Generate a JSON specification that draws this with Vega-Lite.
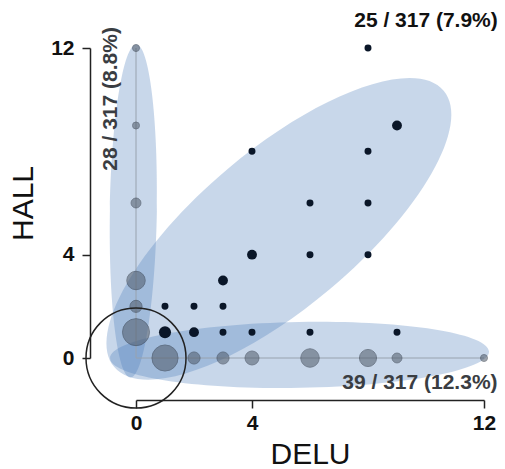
{
  "$schema": "https://vega.github.io/schema/vega-lite/v6.json",
  "width": 348,
  "height": 310,
  "autosize": "none",
  "padding": {"left": 136, "top": 48, "right": 21, "bottom": 111},
  "background": "white",
  "config": {"view": {"stroke": null}, "font": "Liberation Sans"},
  "datasets": {
    "single": [
      {"DELU": 0, "HALL": 12, "n": 1},
      {"DELU": 0, "HALL": 9, "n": 1},
      {"DELU": 0, "HALL": 6, "n": 2},
      {"DELU": 0, "HALL": 3, "n": 7},
      {"DELU": 0, "HALL": 2, "n": 3},
      {"DELU": 0, "HALL": 1, "n": 15},
      {"DELU": 1, "HALL": 0, "n": 14},
      {"DELU": 2, "HALL": 0, "n": 3},
      {"DELU": 3, "HALL": 0, "n": 3},
      {"DELU": 4, "HALL": 0, "n": 4},
      {"DELU": 6, "HALL": 0, "n": 7},
      {"DELU": 8, "HALL": 0, "n": 6},
      {"DELU": 9, "HALL": 0, "n": 2},
      {"DELU": 12, "HALL": 0, "n": 1}
    ],
    "both": [
      {"DELU": 1, "HALL": 1, "n": 3},
      {"DELU": 2, "HALL": 1, "n": 2},
      {"DELU": 3, "HALL": 1, "n": 1},
      {"DELU": 4, "HALL": 1, "n": 1},
      {"DELU": 6, "HALL": 1, "n": 1},
      {"DELU": 9, "HALL": 1, "n": 1},
      {"DELU": 1, "HALL": 2, "n": 1},
      {"DELU": 2, "HALL": 2, "n": 1},
      {"DELU": 3, "HALL": 2, "n": 1},
      {"DELU": 3, "HALL": 3, "n": 2},
      {"DELU": 4, "HALL": 4, "n": 2},
      {"DELU": 6, "HALL": 4, "n": 1},
      {"DELU": 8, "HALL": 4, "n": 1},
      {"DELU": 6, "HALL": 6, "n": 1},
      {"DELU": 8, "HALL": 6, "n": 1},
      {"DELU": 4, "HALL": 8, "n": 1},
      {"DELU": 8, "HALL": 8, "n": 1},
      {"DELU": 9, "HALL": 9, "n": 2},
      {"DELU": 8, "HALL": 12, "n": 1}
    ]
  },
  "encoding": {
    "x": {
      "field": "DELU", "type": "quantitative",
      "scale": {"domain": [0, 12], "nice": false, "zero": false},
      "axis": {
        "values": [0, 4, 12], "offset": 42, "grid": false,
        "domainColor": "#222", "domainWidth": 1.5, "tickColor": "#222", "tickWidth": 1.5, "tickSize": 8,
        "labelFont": "Liberation Sans", "labelFontWeight": "bold", "labelFontSize": 21, "labelColor": "#111",
        "labelPadding": 4, "labelFlush": false, "labelOverlap": false,
        "title": "DELU", "titleFont": "Liberation Sans", "titleFontSize": 30, "titleFontWeight": "normal",
        "titleColor": "#111", "titlePadding": 6
      }
    },
    "y": {
      "field": "HALL", "type": "quantitative",
      "scale": {"domain": [0, 12], "nice": false, "zero": false},
      "axis": {
        "values": [0, 4, 12], "offset": 46, "grid": false,
        "domainColor": "#222", "domainWidth": 1.5, "tickColor": "#222", "tickWidth": 1.5, "tickSize": 8,
        "labelFont": "Liberation Sans", "labelFontWeight": "bold", "labelFontSize": 21, "labelColor": "#111",
        "labelPadding": 8, "labelFlush": false, "labelOverlap": false,
        "title": "HALL", "titleFont": "Liberation Sans", "titleFontSize": 30, "titleFontWeight": "normal",
        "titleColor": "#111", "titlePadding": 12
      }
    }
  },
  "layer": [
    {
      "data": {"values": [{"group": "HALL only", "DELU": -0.09, "HALL": 5.69}]},
      "mark": {"type": "point", "filled": true, "color": "#4a7ab8", "opacity": 0.3, "strokeWidth": 0,
        "shape": "M1,0C1,0.0779 0.5523,0.141 0,0.141C-0.5523,0.141 -1,0.0779 -1,0C-1,-0.0779 -0.5523,-0.141 0,-0.141C0.5523,-0.141 1,-0.0779 1,0Z",
        "size": 110889, "angle": -89}
    },
    {
      "data": {"values": [{"group": "DELU only", "DELU": 5.64, "HALL": 0.12}]},
      "mark": {"type": "point", "filled": true, "color": "#4a7ab8", "opacity": 0.3, "strokeWidth": 0,
        "shape": "M1,0C1,0.0961 0.5523,0.174 0,0.174C-0.5523,0.174 -1,0.0961 -1,0C-1,-0.0961 -0.5523,-0.174 0,-0.174C0.5523,-0.174 1,-0.0961 1,0Z",
        "size": 143641, "angle": -1}
    },
    {
      "data": {"values": [{"group": "both", "DELU": 4.93, "HALL": 5.0}]},
      "mark": {"type": "point", "filled": true, "color": "#4a7ab8", "opacity": 0.3, "strokeWidth": 0,
        "shape": "M1,0C1,0.2027 0.5523,0.367 0,0.367C-0.5523,0.367 -1,0.2027 -1,0C-1,-0.2027 -0.5523,-0.367 0,-0.367C0.5523,-0.367 1,-0.2027 1,0Z",
        "size": 184900, "angle": -40}
    },
    {
      "data": {"values": [{"DELU": 0, "HALL": 0, "HALL2": 12}]},
      "mark": {"type": "rule", "color": "#98a2ae", "strokeWidth": 1},
      "encoding": {"y2": {"field": "HALL2"}}
    },
    {
      "data": {"values": [{"DELU": 0, "DELU2": 12, "HALL": 0}]},
      "mark": {"type": "rule", "color": "#98a2ae", "strokeWidth": 1},
      "encoding": {"x2": {"field": "DELU2"}}
    },
    {
      "data": {"name": "single"},
      "mark": {"type": "circle", "color": "#4f5a69", "opacity": 0.55, "stroke": "#2f3845", "strokeWidth": 1},
      "encoding": {
        "size": {"field": "n", "type": "quantitative", "scale": {"domain": [0, 15], "range": [0, 729]}, "legend": null}
      }
    },
    {
      "data": {"name": "both"},
      "mark": {"type": "circle", "color": "#0a1628", "opacity": 1},
      "encoding": {
        "size": {"field": "n", "type": "quantitative", "scale": {"domain": [0, 15], "range": [0, 729]}, "legend": null}
      }
    },
    {
      "data": {"values": [{"DELU": 0, "HALL": 0}]},
      "mark": {"type": "point", "shape": "circle", "filled": false, "size": 10000, "stroke": "#222", "strokeWidth": 1.5, "opacity": 1}
    },
    {
      "data": {"values": [{"DELU": 10.0, "HALL": 13.05, "label": "25 / 317 (7.9%)"}]},
      "mark": {"type": "text", "font": "Liberation Sans", "fontWeight": "bold", "fontSize": 21, "color": "#111", "align": "center", "baseline": "middle"},
      "encoding": {"text": {"field": "label"}}
    },
    {
      "data": {"values": [{"DELU": 9.79, "HALL": -0.97, "label": "39 / 317 (12.3%)"}]},
      "mark": {"type": "text", "font": "Liberation Sans", "fontWeight": "bold", "fontSize": 21, "color": "#3a3d42", "align": "center", "baseline": "middle"},
      "encoding": {"text": {"field": "label"}}
    },
    {
      "data": {"values": [{"DELU": -0.86, "HALL": 10.03, "label": "28 / 317 (8.8%)"}]},
      "mark": {"type": "text", "font": "Liberation Sans", "fontWeight": "bold", "fontSize": 21, "color": "#3a3d42", "align": "center", "baseline": "middle", "angle": 270},
      "encoding": {"text": {"field": "label"}}
    }
  ]
}
